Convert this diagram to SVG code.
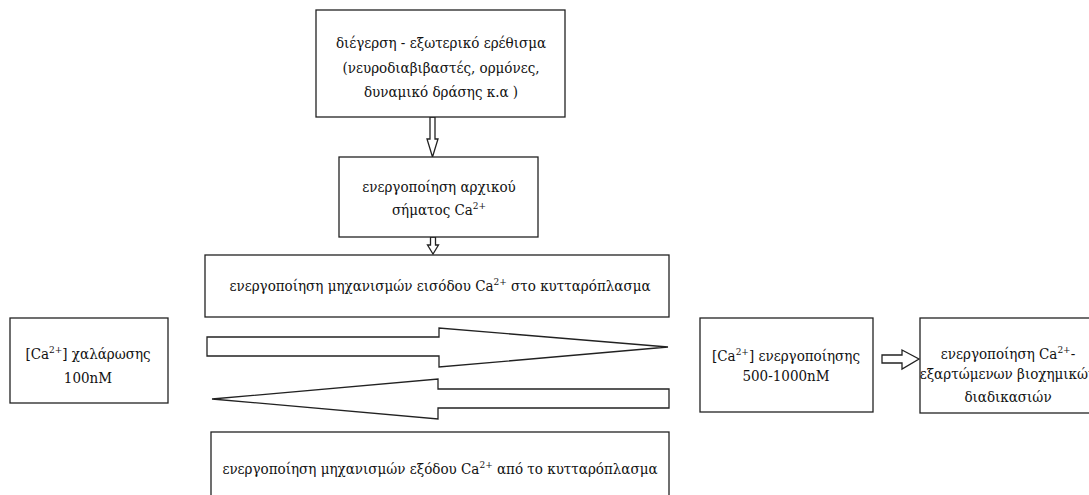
<svg xmlns="http://www.w3.org/2000/svg" width="1089" height="495" viewBox="0 0 1089 495">
<style>
.box{fill:#fff;stroke:#222;stroke-width:1.3}
.arr{fill:#fff;stroke:#222;stroke-width:1.3;stroke-linejoin:miter}
text{font-family:"DejaVu Serif",serif;font-stretch:condensed;font-size:15px;fill:#111;text-anchor:middle}
.sup{font-size:10px}
</style>
<rect width="1089" height="495" fill="#fff"/>
<g id="connectors">
<polygon class="arr" points="430,117 435,117 435,139 438,139 432.5,157 427,139 430,139"/>
<polygon class="arr" points="430.5,237 435.5,237 435.5,245 438.5,245 433,254 427.5,245 430.5,245"/>
<polygon class="arr" points="207,337 439,337 439,328 668,347 439,367 439,356 207,356"/>
<polygon class="arr" points="669,389 438,389 438,379 212,399 438,419 438,408 669,408"/>
<polygon class="arr" points="882,355 902,355 902,350 919,359 902,369 902,363 882,363"/>
</g>
<g id="n1">
<rect class="box" x="316" y="10" width="249" height="107"/>
<text x="441" y="48">διέγερση - εξωτερικό ερέθισμα</text>
<text x="441" y="73">(νευροδιαβιβαστές, ορμόνες,</text>
<text x="441" y="97">δυναμικό δράσης κ.α )</text>
</g>
<g id="n2">
<rect class="box" x="339" y="157" width="199" height="80"/>
<text x="439" y="192">ενεργοποίηση αρχικού</text>
<text x="439" y="215">σήματος Ca<tspan class="sup" dy="-6">2+</tspan></text>
</g>
<g id="n3">
<rect class="box" x="205" y="255" width="464" height="62"/>
<text x="440" y="291">ενεργοποίηση μηχανισμών εισόδου Ca<tspan class="sup" dy="-6">2+</tspan><tspan dy="6">  στο κυτταρόπλασμα</tspan></text>
</g>
<g id="n4">
<rect class="box" x="211" y="432" width="458" height="80"/>
<text x="440" y="474">ενεργοποίηση μηχανισμών εξόδου Ca<tspan class="sup" dy="-6">2+</tspan><tspan dy="6">  από το κυτταρόπλασμα</tspan></text>
</g>
<g id="n5">
<rect class="box" x="10" y="318" width="158" height="85"/>
<text x="88" y="359">[Ca<tspan class="sup" dy="-6">2+</tspan><tspan dy="6">] χαλάρωσης</tspan></text>
<text x="88" y="383">100nM</text>
</g>
<g id="n6">
<rect class="box" x="700" y="318" width="173" height="94"/>
<text x="786" y="361">[Ca<tspan class="sup" dy="-6">2+</tspan><tspan dy="6">] ενεργοποίησης</tspan></text>
<text x="786" y="381">500-1000nM</text>
</g>
<g id="n7">
<rect class="box" x="920" y="318" width="180" height="95"/>
<text x="1008" y="359">ενεργοποίηση Ca<tspan class="sup" dy="-6">2+</tspan><tspan dy="6">-</tspan></text>
<text x="1008" y="379">εξαρτώμενων βιοχημικών</text>
<text x="1008" y="402">διαδικασιών</text>
</g>
</svg>
